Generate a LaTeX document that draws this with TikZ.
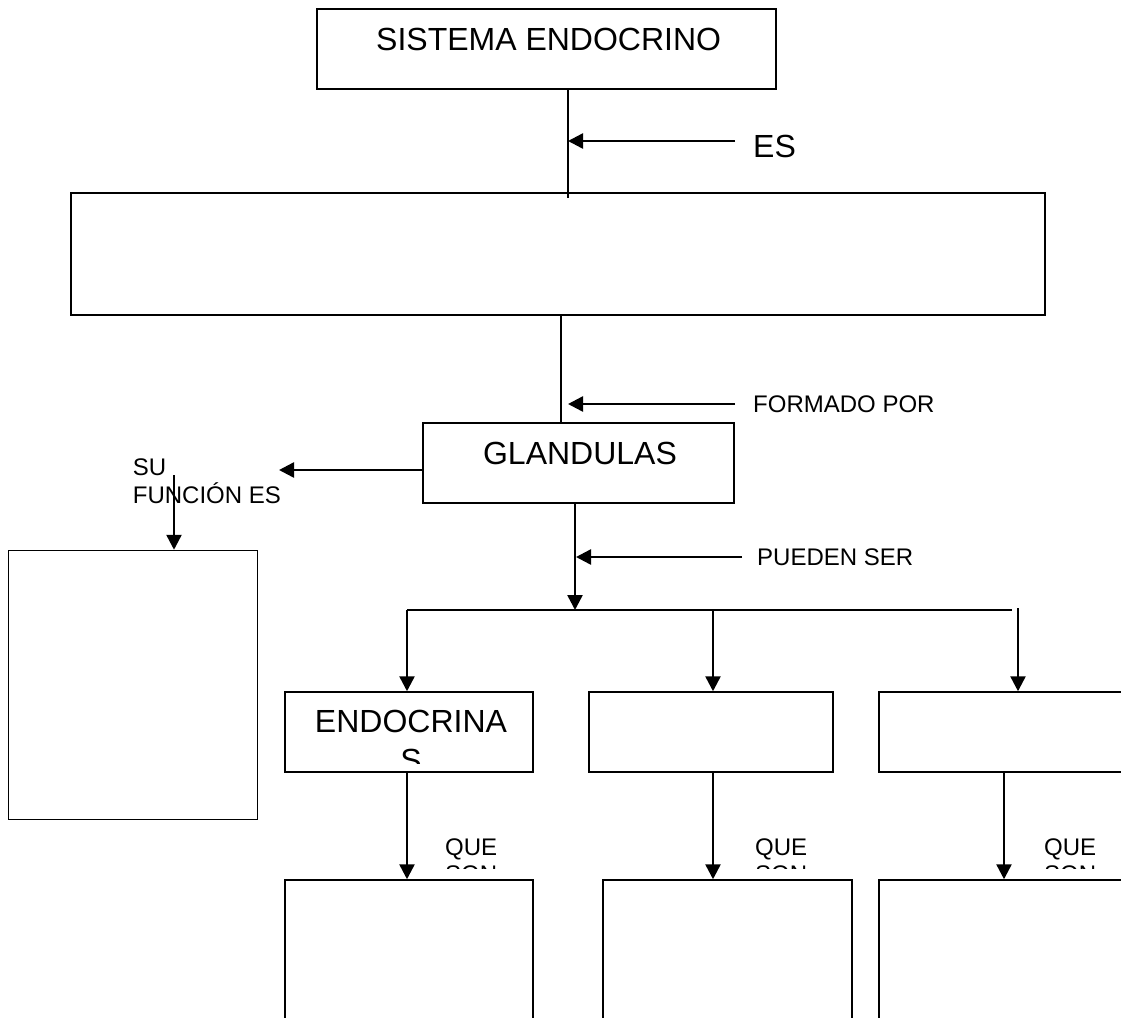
\documentclass[tikz,border=0pt]{standalone}
\usepackage{fontspec}
\setmainfont{Liberation Sans}
\usetikzlibrary{arrows.meta}
\tikzset{
  box/.style={draw, line width=1.5pt, rectangle, inner sep=0pt},
  bigtxt/.style={font=\fontsize{32}{38}\selectfont, inner sep=0pt},
  smalltxt/.style={font=\fontsize{24}{27.6}\selectfont, inner sep=0pt},
  arr/.style={line width=2.5pt, -{Triangle[length=15pt,width=15pt]}},
  link/.style={line width=1.3pt},
}
\begin{document}
\begin{tikzpicture}[x=1pt,y=-1pt]
\useasboundingbox (0,0) rectangle (1121,1017);
\clip (0,0) rectangle (1121,1017);

% boxes (given by centre and size)
\node[box, minimum width=459pt, minimum height=80pt] (sys) at (546.5,49) {};
\node[box, minimum width=974pt, minimum height=122pt] (wide) at (558,254) {};
\node[box, minimum width=311pt, minimum height=80pt] (gland) at (578.5,463) {};
\node[box, minimum width=249pt, minimum height=269pt] (func) at (133,685) {};
\node[box, minimum width=248pt, minimum height=80pt] (endo) at (409,732) {};
\node[box, minimum width=244pt, minimum height=80pt] (mid) at (711,732) {};
\node[box, minimum width=260pt, minimum height=80pt] (right) at (1009,732) {};
\node[box, minimum width=248pt, minimum height=200pt] (endoq) at (409,980) {};
\node[box, minimum width=249pt, minimum height=200pt] (midq) at (727.5,980) {};
\node[box, minimum width=260pt, minimum height=200pt] (rightq) at (1009,980) {};

% texts
\node[bigtxt, anchor=base west] (systxt) at (376,50) {SISTEMA ENDOCRINO};
\node[bigtxt, anchor=base west] (estxt) at (753,157) {ES};
\node[smalltxt, anchor=base west] (formtxt) at (753,412.5) {FORMADO POR};
\node[bigtxt, anchor=base] (glandtxt) at (580,464.5) {GLANDULAS};
\node[smalltxt, anchor=base west] (sutxt) at (132.7,475.7) {SU};
\node[smalltxt, anchor=base west] (fntxt) at (132.7,503.3) {FUNCIÓN ES};
\node[smalltxt, anchor=base west] (puetxt) at (757,565.5) {PUEDEN SER};

\begin{scope}
  \clip (280,695) rectangle (540,763);
  \node[bigtxt, anchor=base] (endotxt) at (411,732) {ENDOCRINA};
  \node[bigtxt, anchor=base] (endotxtb) at (411,771) {S};
\end{scope}
\begin{scope}
  \clip (430,820) rectangle (1121,868);
  \node[smalltxt, anchor=base west] (que1) at (445,855) {QUE};
  \node[smalltxt, anchor=base west] (son1) at (445,882.6) {SON};
  \node[smalltxt, anchor=base west] (que2) at (755,855) {QUE};
  \node[smalltxt, anchor=base west] (son2) at (755,882.6) {SON};
  \node[smalltxt, anchor=base west] (que3) at (1044,855) {QUE};
  \node[smalltxt, anchor=base west] (son3) at (1044,882.6) {SON};
\end{scope}

% connector points
\coordinate (a1) at (568,198);
\coordinate (esfrom) at (735,141);
\coordinate (formfrom) at (735,404);
\coordinate (puefrom) at (742,557);
\coordinate (bL) at (407,610);
\coordinate (bM) at (713,610);
\coordinate (bR) at (1012,610);
\coordinate (bRtop) at (1018,608);

% plain links
\draw[link] (sys.south -| a1) -- (a1);
\draw[link] (wide.south -| 561,0) -- (gland.north -| 561,0);
\draw[line width=2pt] (bL) -- (bR);

% labelled arrows pointing at the links
\draw[arr] (esfrom) -- (568,141);
\draw[arr] (formfrom) -- (568,404);
\draw[arr] (puefrom) -- (576,557);

% flow arrows
\draw[arr] (gland.west |- 0,470) -- (279,470);
\draw[arr] (174,475) -- (func.north -| 174,0);
\draw[arr] (gland.south -| 575,0) -- (575,610);
\draw[arr] (bL) -- (endo.north -| bL);
\draw[arr] (bM) -- (mid.north -| bM);
\draw[arr] (bRtop) -- (right.north -| bRtop);
\draw[arr] (endo.south -| 407,0) -- (endoq.north -| 407,0);
\draw[arr] (mid.south -| 713,0) -- (midq.north -| 713,0);
\draw[arr] (right.south -| 1004,0) -- (rightq.north -| 1004,0);
\end{tikzpicture}
\end{document}
